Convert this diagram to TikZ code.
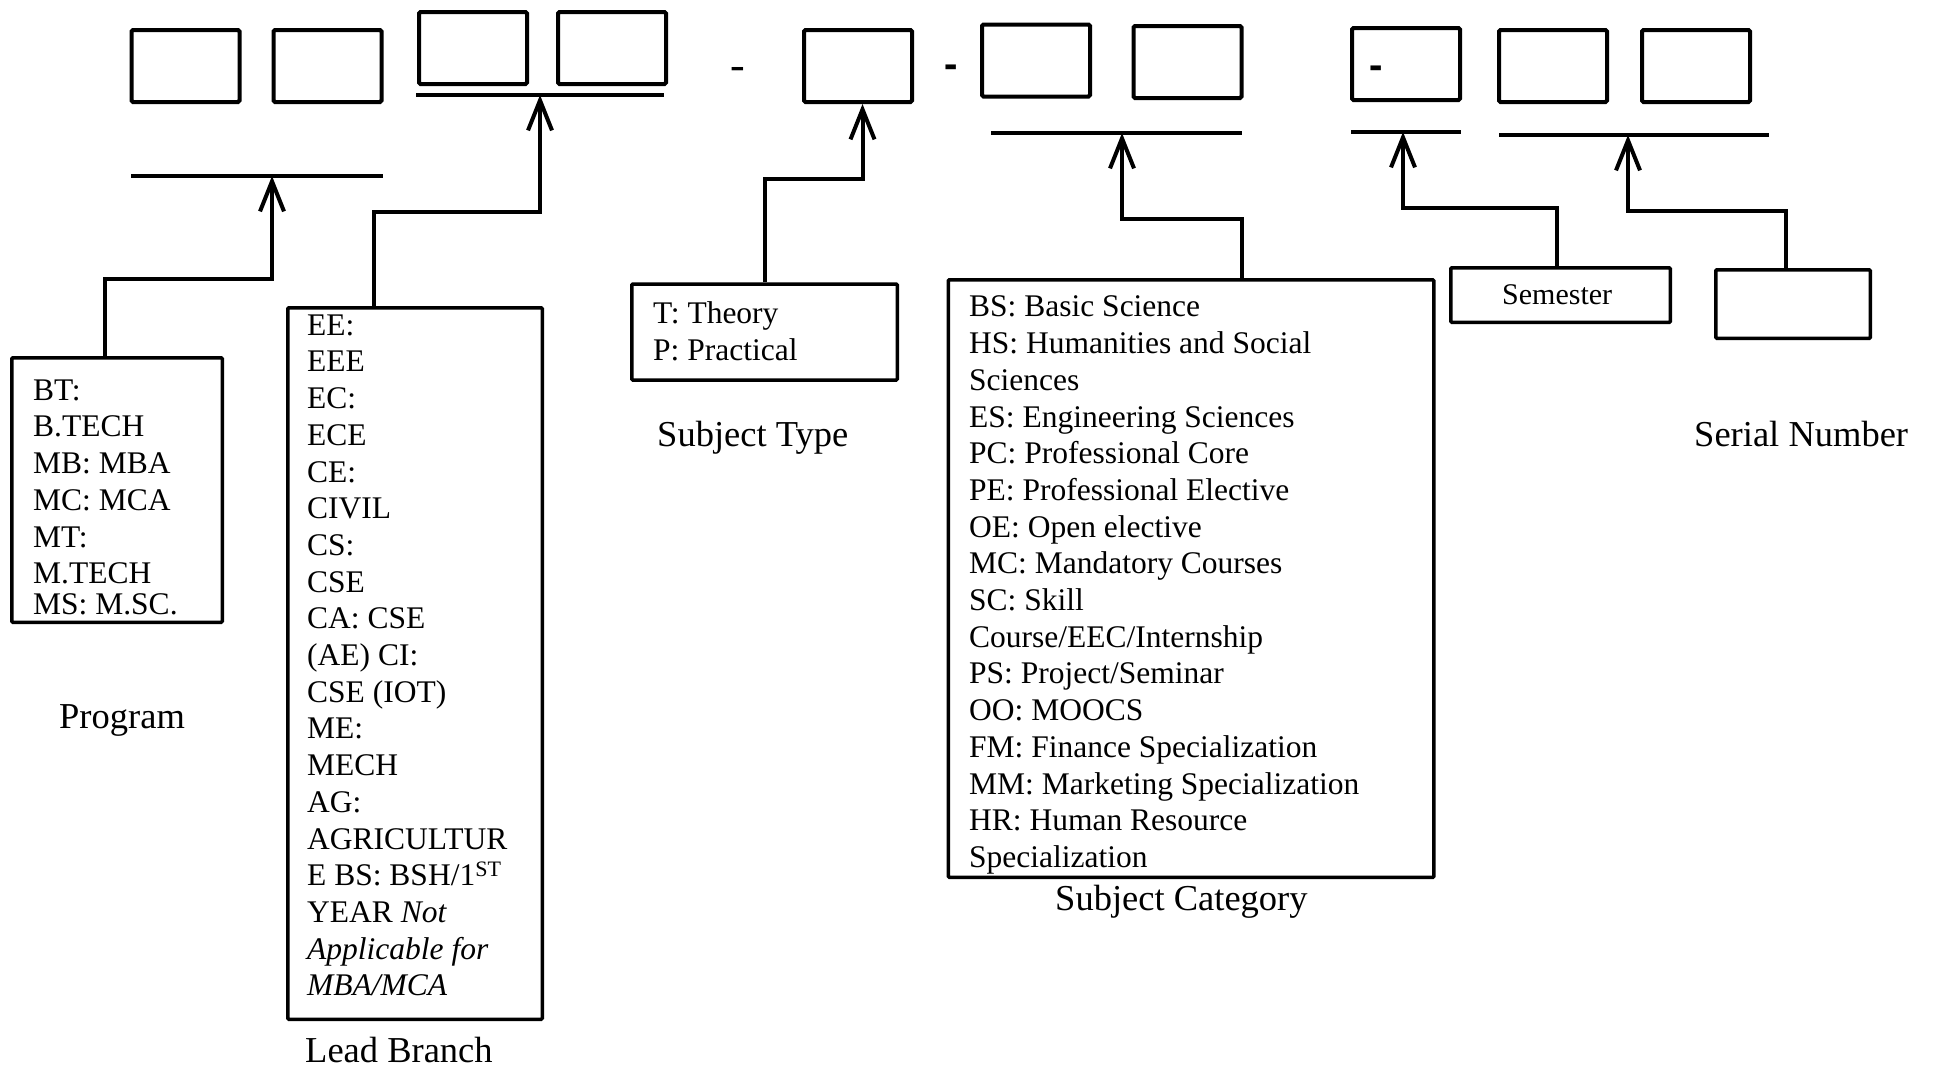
\documentclass[tikz,border=0pt]{standalone}
\usepackage{fontspec}
\setmainfont{Liberation Serif}
\usetikzlibrary{arrows.meta}
\newcommand{\fls}{\rule{0pt}{25pt}}
\begin{document}
\begin{tikzpicture}[x=1pt,y=-1pt,
  sq/.style={draw,line width=4pt,rounded corners=1.5pt,minimum width=108pt,minimum height=72pt,inner sep=0pt},
  tbox/.style={draw,line width=3.5pt,rounded corners=1pt,inner sep=0pt},
  uline/.style={line width=4pt},
  arr/.style={line width=4pt,-{Straight Barb[length=30pt,width=24pt]}},
  list/.style={anchor=north west,align=left,inner sep=0pt,font=\fontsize{31.5}{36.7}\selectfont},
  lab/.style={anchor=base west,inner sep=0pt,font=\fontsize{36.5}{40}\selectfont},
  hyph/.style={anchor=base,inner sep=0pt}
]
\useasboundingbox (0,0) rectangle (1934,1068);

% top code boxes
\node[sq] (b1) at (185.5,66) {};
\node[sq] (b2) at (327.5,66) {};
\node[sq] (b3) at (473,48) {};
\node[sq] (b4) at (612,48) {};
\node[sq] (b5) at (858,66) {};
\node[sq] (b6) at (1036,60.5) {};
\node[sq] (b7) at (1187.5,62) {};
\node[sq] (b8) at (1406,64) {};
\node[sq] (b9) at (1553,66) {};
\node[sq] (b10) at (1696,66) {};

% hyphens
\node[hyph,font=\fontsize{44}{44}\selectfont] (d1) at (737.5,79) {-};
\node[hyph,font=\fontsize{40}{40}\bfseries\selectfont] (d2) at (951,80) {\scalebox{1}[1.4]{-}};
\node[hyph,font=\fontsize{40}{40}\bfseries\selectfont] (d3) at (1376,81) {\scalebox{1}[1.4]{-}};

% underlines
\draw[uline] (131,176) -- (383,176);
\draw[uline] (416,95) -- (664,95);
\draw[uline] (991,133) -- (1242,133);
\draw[uline] (1351,132) -- (1461,132);
\draw[uline] (1499,135) -- (1769,135);
\coordinate (t1) at (272,176);
\coordinate (t2) at (540,95);
\coordinate (t4) at (1122,133);
\coordinate (t5) at (1403,132);
\coordinate (t6) at (1628,135);

% description boxes
\node[tbox,minimum width=210.5pt,minimum height=264.5pt] (prog) at (117,490) {};
\node[tbox,minimum width=254.5pt,minimum height=711.5pt] (lead) at (415,663.5) {};
\node[tbox,minimum width=265.5pt,minimum height=96pt] (type) at (764.5,332) {};
\node[tbox,minimum width=485.5pt,minimum height=597.5pt] (cat) at (1191,578.5) {};
\node[tbox,minimum width=219.5pt,minimum height=54.5pt] (sem) at (1560.5,295) {};
\node[tbox,minimum width=154.5pt,minimum height=68.5pt] (serial) at (1793,304) {};

% box texts
\node[list] (progtext) at (33,375) {\fls BT:\\ B.TECH\\ MB: MBA\\ MC: MCA\\ MT:\\ M.TECH\\[-5.7pt] MS: M.SC.};
\node[list] (leadtext) at (307,310) {\fls EE:\\ EEE\\ EC:\\ ECE\\ CE:\\ CIVIL\\ CS:\\ CSE\\ CA: CSE\\ (AE) CI:\\ CSE (IOT)\\ ME:\\ MECH\\ AG:\\ AGRICULTUR\\ E BS: BSH/1\textsuperscript{ST}\\ YEAR \textit{Not}\\ \textit{Applicable for}\\ \textit{MBA/MCA}};
\node[list] (typetext) at (653,298.5) {\fls T: Theory\\ P: Practical};
\node[list] (cattext) at (969,291.7) {\fls BS: Basic Science\\ HS: Humanities and Social\\ Sciences\\ ES: Engineering Sciences\\ PC: Professional Core\\ PE: Professional Elective\\ OE: Open elective\\ MC: Mandatory Courses\\ SC: Skill\\ Course/EEC/Internship\\ PS: Project/Seminar\\ OO: MOOCS\\ FM: Finance Specialization\\ MM: Marketing Specialization\\ HR: Human Resource\\ Specialization};
\node[anchor=base west,inner sep=0pt,font=\fontsize{30}{30}\selectfont] (semtext) at (1502,304) {Semester};

% labels
\node[lab] (lprog) at (59,728) {Program};
\node[lab] (llead) at (305,1062) {Lead Branch};
\node[lab] (ltype) at (657,446) {Subject Type};
\node[lab] (lcat) at (1055,910) {Subject Category};
\node[lab] (lser) at (1694,446) {Serial Number};

% connectors
\draw[arr] ([xshift=-12pt]prog.north) |- (272,279) -- (t1);
\draw[arr] ([xshift=-41pt]lead.north) |- (540,212) -- (t2);
\draw[arr] (type.north) |- (862.5,179) -- ([xshift=4.5pt]b5.south);
\draw[arr] ([xshift=51pt]cat.north) |- (1122,219) -- (t4);
\draw[arr] ([xshift=-3.5pt]sem.north) |- (1403,208) -- (t5);
\draw[arr] ([xshift=-7pt]serial.north) |- (1628,211) -- (t6);
\end{tikzpicture}
\end{document}
